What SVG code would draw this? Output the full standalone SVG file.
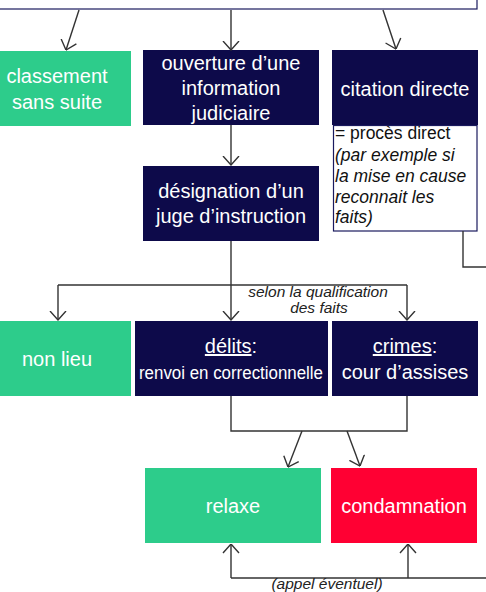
<svg xmlns="http://www.w3.org/2000/svg" width="486" height="592" viewBox="0 0 486 592">
<style>
.t{font-family:"Liberation Sans",Arial,sans-serif;fill:#fff;font-size:20px;text-anchor:middle}
.n{font-family:"Liberation Sans",Arial,sans-serif;fill:#111;font-size:17.5px}
.i{font-style:italic}
.lab{font-family:"Liberation Sans",Arial,sans-serif;fill:#222;font-size:15.5px;font-style:italic;text-anchor:middle}
.green{fill:#2DCC8B}
.navy{fill:#0D0A4A}
.red{fill:#FF0033}
.c{fill:none;stroke:#333;stroke-width:1.4}
</style>
<defs>
<marker id="ah" viewBox="0 0 10 18" refX="9.5" refY="9" markerWidth="10" markerHeight="18" markerUnits="userSpaceOnUse" orient="auto">
<path d="M0.5,1 L9.5,9 L0.5,17" fill="none" stroke="#333" stroke-width="1.4"/>
</marker>
</defs>
<g id="top">
<rect x="-5" y="-5" width="482" height="14" fill="#fff" stroke="#1a1a5e" stroke-width="1.2"/>
</g>
<g id="classement">
<rect class="green" x="0" y="51" width="131" height="75"/>
<text class="t" x="57" y="83">classement</text>
<text class="t" x="57" y="109">sans suite</text>
</g>
<g id="ouverture">
<rect class="navy" x="143" y="50" width="176" height="75"/>
<text class="t" x="231" y="70">ouverture d’une</text>
<text class="t" x="231" y="95">information</text>
<text class="t" x="231" y="120">judiciaire</text>
</g>
<g id="citation">
<rect class="navy" x="332" y="50" width="146" height="75"/>
<text class="t" x="405" y="96">citation directe</text>
</g>
<g id="note">
<rect x="333.5" y="125.5" width="143.5" height="105.5" fill="#fff" stroke="#1a1a5e" stroke-width="1.2"/>
<text class="n" x="335" y="139">= procès direct</text>
<text class="n i" x="335" y="161">(par exemple si</text>
<text class="n i" x="335" y="182">la mise en cause</text>
<text class="n i" x="335" y="203">reconnait les</text>
<text class="n i" x="335" y="223">faits)</text>
</g>
<g id="designation">
<rect class="navy" x="143" y="166" width="176" height="75"/>
<text class="t" x="231" y="198">désignation d’un</text>
<text class="t" x="231" y="223">juge d’instruction</text>
</g>
<g id="nonlieu">
<rect class="green" x="0" y="321" width="131" height="75"/>
<text class="t" x="57" y="366">non lieu</text>
</g>
<g id="delits">
<rect class="navy" x="135" y="321" width="193" height="75"/>
<text class="t" x="231" y="353"><tspan text-decoration="underline">délits</tspan>:</text>
<text class="t" x="231" y="379" style="font-size:18px" textLength="184" lengthAdjust="spacingAndGlyphs">renvoi en correctionnelle</text>
</g>
<g id="crimes">
<rect class="navy" x="332" y="321" width="146" height="75"/>
<text class="t" x="405" y="353"><tspan text-decoration="underline">crimes</tspan>:</text>
<text class="t" x="405" y="379">cour d’assises</text>
</g>
<g id="relaxe">
<rect class="green" x="145" y="468" width="176" height="75"/>
<text class="t" x="233" y="513">relaxe</text>
</g>
<g id="condamnation">
<rect class="red" x="331" y="468" width="146" height="75"/>
<text class="t" x="404" y="513">condamnation</text>
</g>
<g id="connectors">
<line class="c" x1="79" y1="10" x2="66" y2="50" marker-end="url(#ah)"/>
<line class="c" x1="231" y1="10" x2="231" y2="50" marker-end="url(#ah)"/>
<line class="c" x1="383" y1="10" x2="396" y2="49" marker-end="url(#ah)"/>
<line class="c" x1="231" y1="125" x2="231" y2="165" marker-end="url(#ah)"/>
<line class="c" x1="231" y1="241" x2="231" y2="285"/>
<line class="c" x1="58" y1="285" x2="407" y2="285"/>
<line class="c" x1="58" y1="285" x2="58" y2="320" marker-end="url(#ah)"/>
<line class="c" x1="231" y1="285" x2="231" y2="320" marker-end="url(#ah)"/>
<line class="c" x1="407" y1="285" x2="407" y2="320" marker-end="url(#ah)"/>
<polyline class="c" points="231,396 231,431 407,431 407,396"/>
<line class="c" x1="302" y1="431" x2="288" y2="467" marker-end="url(#ah)"/>
<line class="c" x1="347" y1="431" x2="360" y2="466" marker-end="url(#ah)"/>
<polyline class="c" points="463,231 463,267 490,267"/>
<line class="c" x1="231" y1="578" x2="490" y2="578"/>
<line class="c" x1="231" y1="578" x2="231" y2="544" marker-end="url(#ah)"/>
<line class="c" x1="408" y1="578" x2="408" y2="544" marker-end="url(#ah)"/>
<text class="lab" x="318" y="297">selon la qualification</text>
<text class="lab" x="319" y="313">des faits</text>
<text class="lab" x="327" y="589">(appel éventuel)</text>
</g>
</svg>
